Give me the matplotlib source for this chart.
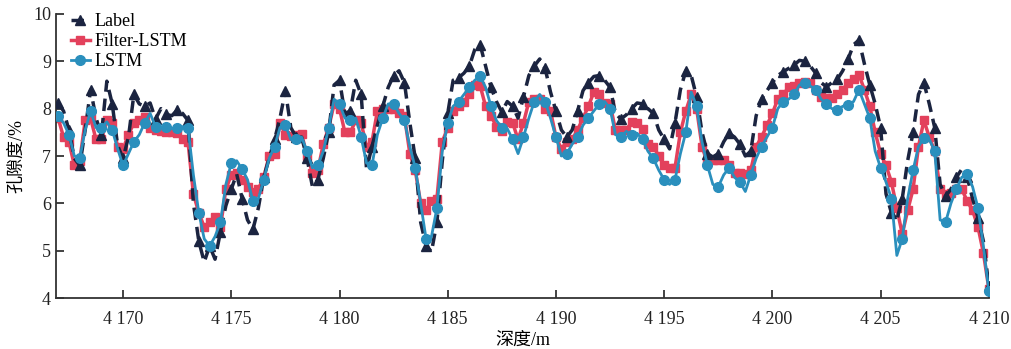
import numpy as np
import matplotlib
matplotlib.use('Agg')
import matplotlib.pyplot as plt
from matplotlib.ticker import FuncFormatter

plt.rcParams['font.family'] = ['Liberation Serif', 'Noto Sans CJK SC']

start_depth = 4167.0
step = 0.25

# label (measured porosity), one row = 1 m
label = [
	8.12, 7.95, 7.55, 6.95,
	6.80, 7.55, 8.40, 7.80,
	7.45, 8.58, 8.10, 7.22,
	6.95, 7.40, 8.30, 8.10,
	8.05, 8.12, 7.78, 8.00,
	7.88, 7.85, 7.97, 7.90,
	7.75, 6.00, 5.20, 4.76,
	5.10, 4.82, 5.40, 5.95,
	6.30, 6.62, 6.10, 5.65,
	5.45, 5.90, 6.55, 6.95,
	7.35, 7.80, 8.38, 7.60,
	7.40, 7.40, 6.95, 6.35,
	6.50, 6.95, 7.50, 8.50,
	8.60, 7.90, 7.95, 8.60,
	8.30, 6.72, 7.20, 7.65,
	8.05, 8.45, 8.70, 8.80,
	8.55, 7.70, 6.95, 5.60,
	5.10, 4.98, 5.60, 6.90,
	7.90, 8.60, 8.65, 8.75,
	8.90, 9.25, 9.35, 8.90,
	8.45, 8.15, 7.93, 8.15,
	8.05, 7.80, 8.25, 8.70,
	8.90, 9.05, 8.85, 8.35,
	7.95, 7.55, 7.40, 7.55,
	7.95, 8.38, 8.55, 8.68,
	8.70, 8.60, 8.45, 7.90,
	7.78, 7.87, 8.00, 8.12,
	8.10, 8.00, 7.90, 7.55,
	7.35, 7.15, 7.70, 8.40,
	8.80, 8.70, 8.25, 7.50,
	7.05, 6.98, 7.05, 7.30,
	7.48, 7.40, 7.25, 7.00,
	7.10, 7.85, 8.20, 8.38,
	8.55, 8.70, 8.78, 8.85,
	8.92, 9.02, 9.00, 8.90,
	8.75, 8.55, 8.46, 8.55,
	8.62, 8.80, 9.05, 9.35,
	9.45, 8.95, 8.50, 8.10,
	7.60, 6.20, 5.80, 5.65,
	6.10, 6.90, 7.50, 8.30,
	8.55, 8.10, 7.60, 6.40,
	6.15, 6.30, 6.55, 6.72,
	6.55, 6.10, 5.70, 5.20,
	4.25,
]

filter_lstm = [
	7.80, 7.40, 7.30, 6.80,
	6.90, 7.75, 7.80, 7.35,
	7.35, 7.75, 7.70, 7.20,
	7.15, 7.45, 7.70, 7.75,
	7.82, 7.60, 7.55, 7.52,
	7.50, 7.50, 7.48, 7.35,
	7.30, 6.20, 5.80, 5.50,
	5.60, 5.72, 5.50, 6.30,
	6.60, 6.65, 6.50, 6.35,
	6.25, 6.30, 6.55, 7.00,
	7.05, 7.70, 7.45, 7.42,
	7.45, 7.47, 7.00, 6.65,
	6.70, 7.25, 7.60, 8.10,
	8.00, 7.50, 7.50, 7.75,
	7.70, 7.20, 7.30, 7.95,
	8.00, 8.00, 8.00, 7.90,
	7.85, 7.05, 6.70, 6.00,
	5.85, 6.05, 6.10, 7.30,
	7.60, 7.95, 8.05, 8.15,
	8.30, 8.50, 8.48, 8.05,
	7.85, 7.62, 7.52, 7.72,
	7.70, 7.35, 7.70, 8.15,
	8.20, 8.20, 8.00, 7.95,
	7.40, 7.15, 7.30, 7.35,
	7.55, 7.80, 8.05, 8.35,
	8.30, 8.12, 8.10, 7.55,
	7.55, 7.55, 7.72, 7.70,
	7.58, 7.25, 7.20, 7.00,
	6.80, 6.75, 6.75, 7.50,
	7.95, 8.30, 8.00, 7.20,
	6.85, 6.92, 6.92, 6.92,
	6.80, 6.65, 6.64, 6.62,
	6.70, 7.20, 7.40, 7.65,
	7.90, 8.20, 8.30, 8.45,
	8.48, 8.55, 8.56, 8.54,
	8.40, 8.25, 8.22, 8.22,
	8.30, 8.40, 8.55, 8.62,
	8.72, 8.40, 8.05, 7.50,
	7.05, 6.80, 6.45, 5.90,
	5.35, 5.85, 6.30, 7.20,
	7.75, 7.40, 7.10, 6.30,
	6.20, 6.22, 6.30, 6.30,
	6.05, 5.85, 5.50, 4.95,
	4.20,
]

lstm = [
	7.85, 7.70, 7.45, 7.00,
	6.95, 7.55, 7.95, 7.60,
	7.60, 7.72, 7.55, 7.15,
	6.80, 7.05, 7.30, 7.45,
	7.70, 7.90, 7.62, 7.60,
	7.62, 7.58, 7.60, 7.62,
	7.60, 6.60, 5.80, 5.25,
	5.10, 5.30, 5.60, 6.40,
	6.85, 6.90, 6.72, 6.50,
	6.05, 6.10, 6.50, 6.95,
	7.20, 7.60, 7.65, 7.35,
	7.35, 7.40, 7.10, 6.75,
	6.80, 7.10, 7.60, 8.20,
	8.10, 7.80, 7.75, 7.80,
	7.40, 6.85, 6.80, 7.45,
	7.80, 8.10, 8.10, 7.90,
	7.75, 7.20, 6.75, 6.00,
	5.25, 5.30, 5.90, 7.10,
	7.70, 8.05, 8.15, 8.30,
	8.45, 8.60, 8.68, 8.45,
	8.05, 7.75, 7.60, 7.58,
	7.35, 7.05, 7.40, 7.80,
	8.15, 8.30, 8.15, 7.80,
	7.40, 7.00, 7.05, 7.25,
	7.40, 7.65, 7.80, 7.95,
	8.10, 8.15, 8.00, 7.45,
	7.40, 7.52, 7.45, 7.48,
	7.35, 7.10, 6.95, 6.70,
	6.50, 6.40, 6.50, 7.05,
	7.50, 8.35, 8.05, 7.30,
	6.80, 6.40, 6.35, 6.60,
	6.75, 6.55, 6.45, 6.25,
	6.60, 6.95, 7.20, 7.40,
	7.60, 8.00, 8.15, 8.20,
	8.30, 8.50, 8.55, 8.48,
	8.40, 8.20, 8.10, 8.00,
	7.98, 8.05, 8.08, 8.15,
	8.40, 8.10, 7.80, 7.10,
	6.75, 6.45, 6.10, 4.90,
	5.25, 6.10, 6.70, 7.20,
	7.38, 7.35, 7.10, 5.65,
	5.60, 6.00, 6.30, 6.55,
	6.62, 6.35, 5.90, 5.10,
	4.15,
]

x_ticks = [4170, 4175, 4180, 4185, 4190, 4195, 4200, 4205, 4210]
y_ticks = [4, 5, 6, 7, 8, 9, 10]

depth = start_depth + step * np.arange(len(label))

fig = plt.figure(figsize=(10.12, 3.49), dpi=100)
ax = fig.add_axes([0.0553, 0.146, 0.9218, 0.814])

ax.plot(depth, label, color='#1b2440', lw=2.5, ls=(0, (3.6, 2.0)),
		marker='^', ms=7.5, markevery=2, label='Label', zorder=3)
ax.plot(depth, filter_lstm, color='#e3415c', lw=2.5,
		marker='s', ms=5.5, markevery=1, label='Filter-LSTM', zorder=2)
ax.plot(depth, lstm, color='#2a8fbd', lw=2.0,
		marker='o', ms=7, markevery=2, label='LSTM', zorder=4)

ax.set_xlim(4166.9, 4210)
ax.set_ylim(4, 10)
ax.set_xticks(x_ticks)
ax.set_yticks(y_ticks)
ax.xaxis.set_major_formatter(FuncFormatter(lambda v, p: '%d %03d' % (int(v) // 1000, int(v) % 1000)))

for s in ['top', 'right']:
	ax.spines[s].set_visible(False)
for s in ['left', 'bottom']:
	ax.spines[s].set_linewidth(1.3)
	ax.spines[s].set_color('#333333')
ax.tick_params(direction='in', length=6, width=1.2, labelsize=13, colors='#222222')
ax.tick_params(axis='x', pad=9)

ax.set_xlabel('深度/m', fontsize=13, labelpad=3)
ax.set_ylabel('孔隙度/%', fontsize=13, labelpad=6)

leg = ax.legend(loc='upper left', bbox_to_anchor=(0.005, 1.04), frameon=False,
				fontsize=13, handlelength=1.0, handletextpad=0.3, labelspacing=0.15,
				borderaxespad=0.2)

plt.savefig('out.png', dpi=100)
# plt.show()
